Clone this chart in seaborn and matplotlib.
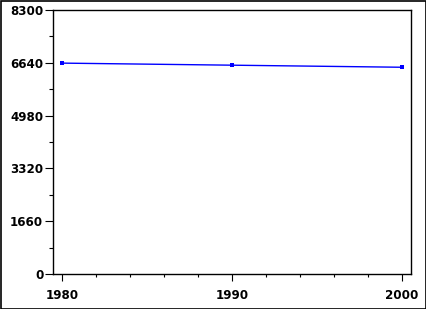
import matplotlib
matplotlib.use("Agg")
import matplotlib.pyplot as plt
import seaborn as sns
import pandas as pd
from matplotlib.ticker import MultipleLocator
from matplotlib.patches import Rectangle

years = [1980, 1990, 2000]
values = [6630, 6565, 6500]
y_ticks = [0, 1660, 3320, 4980, 6640, 8300]
x_ticks = [1980, 1990, 2000]

sns.set_style("white")
plt.rcParams['font.family'] = ['DejaVu Sans']

df = pd.DataFrame({"year": years, "value": values})

fig = plt.figure(figsize=(4.27, 3.09), dpi=100)
ax = fig.add_axes([53/427, 1 - 274/309, (411-53)/427, (274-10)/309])
sns.lineplot(data=df, x="year", y="value", ax=ax, color="#0000ff", linewidth=1.0,
             marker="s", markersize=3, markeredgewidth=0, markerfacecolor="#0000ff")
ax.set_xlim(1980 - 9/17, 2000 + 9/17)
ax.set_ylim(0, 8300)
ax.set_xticks(x_ticks)
ax.set_xticklabels([str(t) for t in x_ticks], fontsize=8.6, fontweight="bold", color="black")
ax.set_yticks(y_ticks)
ax.set_yticklabels([str(t) for t in y_ticks], fontsize=8.6, fontweight="bold", color="black")
ax.xaxis.set_minor_locator(MultipleLocator(2))
ax.yaxis.set_minor_locator(MultipleLocator(830))
ax.tick_params(axis="both", which="major", direction="out", length=5.5, width=0.8, color="black",
               bottom=True, left=True, top=False, right=False, pad=1.5)
ax.tick_params(axis="y", which="minor", direction="out", length=3, width=0.8, color="black",
               left=True, right=False)
ax.tick_params(axis="x", which="minor", direction="out", length=2.2, width=0.8, color="black",
               bottom=True, top=False)
ax.tick_params(axis="x", which="major", length=5, pad=6)
ax.set_xlabel("")
ax.set_ylabel("")
for s in ax.spines.values():
    s.set_visible(True)
    s.set_color("black")
    s.set_linewidth(1)
fig.patches.append(Rectangle((0.5/427, 0.5/309), 1 - 1.5/427, 1 - 1.5/309, transform=fig.transFigure,
                             fill=False, edgecolor="black", linewidth=1.2))
fig.savefig("out.png", dpi=100)
